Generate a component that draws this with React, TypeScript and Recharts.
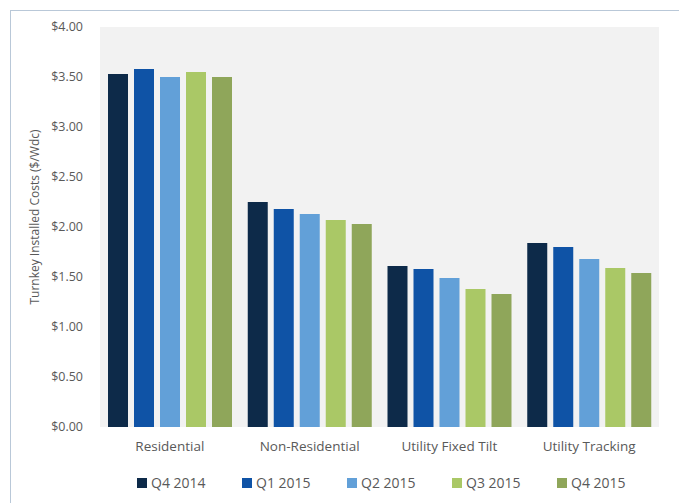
import React from "react";
import { BarChart, Bar, XAxis, YAxis, CartesianGrid } from "recharts";

const categories = ["Residential", "Non-Residential", "Utility Fixed Tilt", "Utility Tracking"];
const seriesNames = ["Q4 2014", "Q1 2015", "Q2 2015", "Q3 2015", "Q4 2015"];
const seriesKeys = ["q4_2014", "q1_2015", "q2_2015", "q3_2015", "q4_2015"];
const q4_2014 = [3.53, 2.25, 1.61, 1.84];
const q1_2015 = [3.58, 2.18, 1.58, 1.8];
const q2_2015 = [3.5, 2.13, 1.49, 1.68];
const q3_2015 = [3.55, 2.07, 1.38, 1.59];
const q4_2015 = [3.5, 2.03, 1.33, 1.54];
const yTicks = [0, 0.5, 1, 1.5, 2, 2.5, 3, 3.5, 4];

const colors = ["#0d2a49", "#0f53a6", "#62a0d8", "#aac866", "#8fa65a"];
const font = '"Open Sans", sans-serif';

const data = categories.map((name, i) => ({
  name,
  q4_2014: q4_2014[i],
  q1_2015: q1_2015[i],
  q2_2015: q2_2015[i],
  q3_2015: q3_2015[i],
  q4_2015: q4_2015[i],
}));

export default function App() {
  return (
    <div
      style={{
        position: "absolute",
        left: 0,
        top: 0,
        width: 679,
        height: 503,
        background: "#fff",
        overflow: "hidden",
        fontFamily: font,
      }}
    >
      <div
        style={{
          position: "absolute",
          left: 10,
          top: 10,
          width: 700,
          height: 520,
          border: "1.5px solid #b9c8d8",
        }}
      />
      <div style={{ position: "absolute", left: 0, top: 0 }}>
        <BarChart
          width={679}
          height={503}
          data={data}
          margin={{ top: 27, right: 20, left: 0, bottom: 46 }}
          barCategoryGap={8}
          barGap={6}
        >
          <CartesianGrid fill="#f2f2f2" stroke="none" horizontal={false} vertical={false} />
          <XAxis
            dataKey="name"
            height={30}
            axisLine={false}
            tickLine={false}
            tickMargin={8}
            tick={{ fontSize: 13.5, fill: "#595959", fontFamily: font }}
          />
          <YAxis
            width={100}
            domain={[0, 4]}
            ticks={yTicks}
            interval={0}
            axisLine={false}
            tickLine={false}
            tickMargin={11}
            tickFormatter={(v: number) => `$${v.toFixed(2)}`}
            tick={{ fontSize: 12.5, fill: "#595959", fontFamily: font }}
            label={{
              value: "Turnkey Installed Costs ($/Wdc)",
              angle: -90,
              position: "center",
              dx: -15,
              dy: -10,
              style: { fontSize: 12, fill: "#595959", fontFamily: font, textAnchor: "middle" },
            }}
          />
          {seriesKeys.map((k, i) => (
            <Bar key={k} dataKey={k} name={seriesNames[i]} fill={colors[i]} isAnimationActive={false} />
          ))}
        </BarChart>
      </div>
      <div
        style={{
          position: "absolute",
          left: 137,
          top: 473,
          display: "flex",
          fontSize: 14,
          color: "#595959",
        }}
      >
        {seriesNames.map((n, i) => (
          <div key={n} style={{ width: 105, display: "flex", alignItems: "center" }}>
            <span
              style={{
                display: "inline-block",
                width: 10,
                height: 10,
                background: colors[i],
                marginRight: 4,
              }}
            />
            <span>{n}</span>
          </div>
        ))}
      </div>
    </div>
  );
}
